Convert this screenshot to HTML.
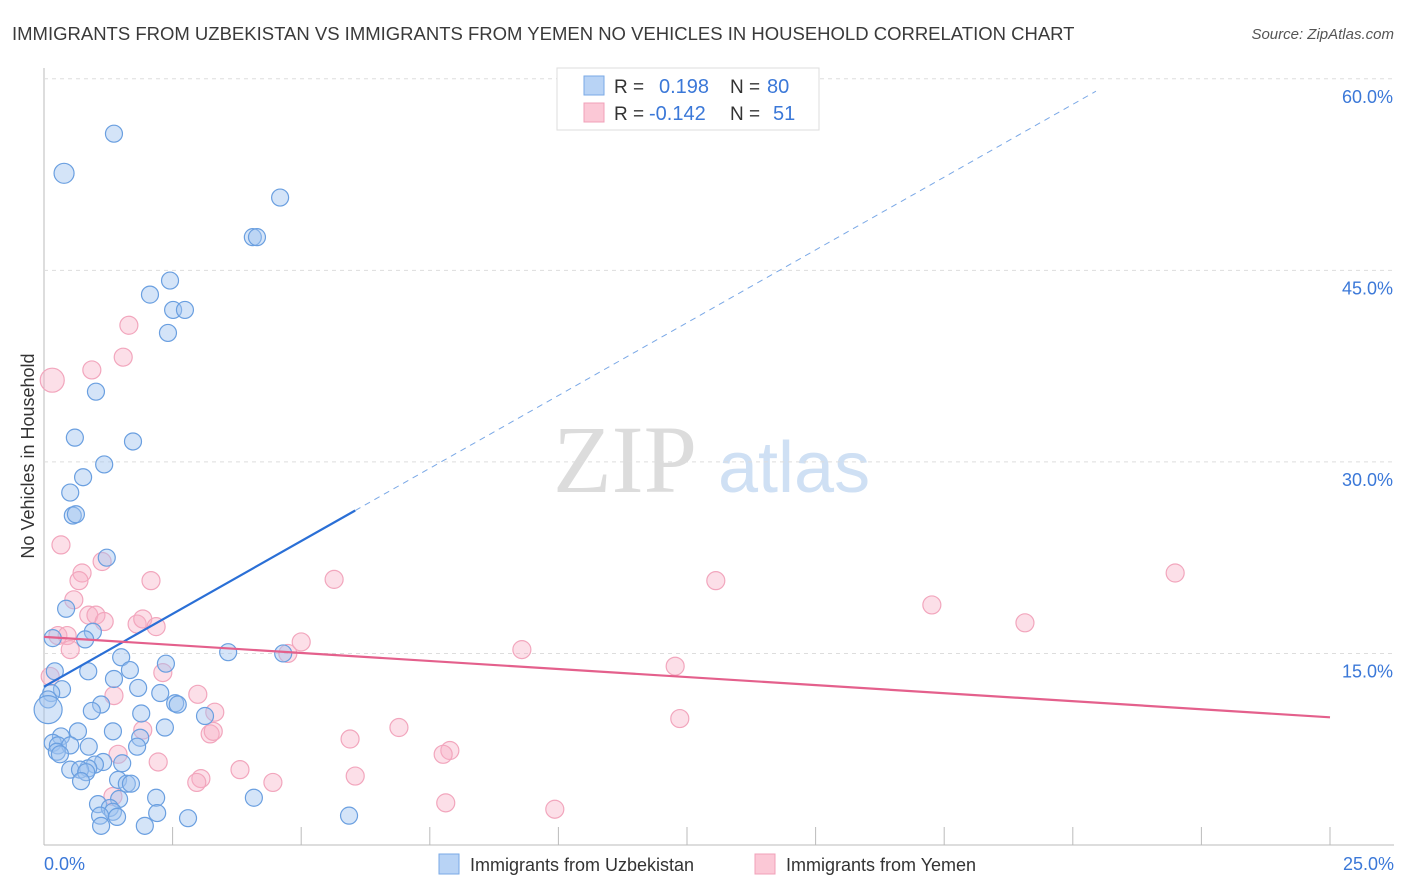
<!DOCTYPE html>
<html><head><meta charset="utf-8"><style>
body{margin:0;background:#fff;font-family:"Liberation Sans",sans-serif;}
svg{display:block}
</style></head><body>
<svg id="c" width="1406" height="892" xmlns="http://www.w3.org/2000/svg">
<text x="12" y="40" font-size="18.5" fill="#3a3a3a">IMMIGRANTS FROM UZBEKISTAN VS IMMIGRANTS FROM YEMEN NO VEHICLES IN HOUSEHOLD CORRELATION CHART</text>
<text x="1394" y="39" font-size="15" font-style="italic" fill="#555" text-anchor="end">Source: ZipAtlas.com</text>
<text transform="translate(34,456) rotate(-90)" font-size="18" fill="#333" text-anchor="middle">No Vehicles in Household</text>
<g>
<text x="553" y="492" font-size="96" font-family="Liberation Serif,serif" fill="#dcdcdc">ZIP</text>
<text x="718" y="492" font-size="72" fill="#cfe0f4">atlas</text></g>
<g id="grid"></g><g id="pts"></g><g id="trend"></g>
<g>
<rect x="557" y="68" width="262" height="62" fill="#fff" stroke="#ddd"/>
<rect x="584" y="76" width="20" height="19" fill="#b8d3f5" stroke="#7aaae6"/>
<rect x="584" y="103" width="20" height="19" fill="#fbc8d6" stroke="#f0a0b8"/>
<text x="614" y="93" font-size="19" fill="#333">R =</text>
<text x="659" y="93" font-size="20" fill="#3b78d8">0.198</text>
<text x="730" y="93" font-size="19" fill="#333">N =</text>
<text x="767" y="93" font-size="20" fill="#3b78d8">80</text>
<text x="614" y="120" font-size="19" fill="#333">R =</text>
<text x="649" y="120" font-size="20" fill="#3b78d8">-0.142</text>
<text x="730" y="120" font-size="19" fill="#333">N =</text>
<text x="773" y="120" font-size="20" fill="#3b78d8">51</text>
</g>
<g>
<rect x="439" y="854" width="20" height="20" fill="#b8d3f5" stroke="#7aaae6"/>
<text x="470" y="871" font-size="18" fill="#333">Immigrants from Uzbekistan</text>
<rect x="755" y="854" width="20" height="20" fill="#fbc8d6" stroke="#f0a0b8"/>
<text x="786" y="871" font-size="18" fill="#333">Immigrants from Yemen</text>
</g>
</svg>
<script>
const yTicks=[15,30,45,60];
const yTickLabels=["15.0%","30.0%","45.0%","60.0%"];
const xTickVals=[0,2.5,5,7.5,10,12.5,15,17.5,20,22.5,25];
const blueX=[1.36,0.39,4.59,4.06,4.14,2.45,2.06,2.51,2.74,2.41,1.01,0.60,1.73,1.17,0.76,0.51,0.56,0.62,1.22,0.43,0.95,0.17,0.80,3.58,4.65,1.50,2.37,0.21,0.86,1.67,1.36,1.83,0.35,0.14,2.26,0.08,2.55,2.60,1.11,0.08,0.93,1.89,3.13,2.35,1.34,0.66,0.33,1.87,0.17,0.27,0.51,0.87,1.81,0.25,0.31,1.15,1.52,0.99,0.86,0.51,0.70,0.82,1.44,1.61,1.69,0.72,1.46,2.18,4.08,1.05,1.28,1.34,2.20,1.09,1.42,2.80,5.93,1.11,1.96];
const blueY=[55.7,52.6,50.7,47.6,47.6,44.2,43.1,41.9,41.9,40.1,35.5,31.9,31.6,29.8,28.8,27.6,25.8,25.9,22.5,18.5,16.7,16.2,16.1,15.1,15.0,14.7,14.2,13.6,13.6,13.7,13.0,12.3,12.2,11.9,11.9,11.4,11.1,11.0,11.0,10.6,10.5,10.3,10.1,9.2,8.9,8.9,8.5,8.4,8.0,7.8,7.8,7.7,7.7,7.3,7.1,6.5,6.4,6.3,6.0,5.9,5.9,5.7,5.1,4.8,4.8,5.0,3.6,3.7,3.7,3.2,2.9,2.6,2.5,2.3,2.2,2.1,2.3,1.5,1.5];
const pinkX=[0.16,1.65,1.54,0.93,0.33,0.74,0.68,2.08,5.64,13.06,21.99,1.13,0.58,17.26,0.87,1.01,19.07,1.17,1.81,1.92,2.18,0.27,0.45,0.51,5.00,4.74,9.29,12.27,2.31,0.12,1.36,2.99,3.32,12.36,6.90,3.23,3.29,1.92,5.95,7.89,7.76,1.44,2.22,3.81,3.05,2.97,6.05,4.45,1.34,7.81,9.93];
const pinkY=[36.4,40.7,38.2,37.2,23.5,21.3,20.7,20.7,20.8,20.7,21.3,22.2,19.2,18.8,18.0,18.0,17.4,17.5,17.3,17.7,17.1,16.4,16.4,15.3,15.9,15.0,15.3,14.0,13.5,13.2,11.7,11.8,10.4,9.9,9.2,8.7,8.9,9.0,8.3,7.4,7.1,7.1,6.5,5.9,5.2,4.9,5.4,4.9,3.8,3.3,2.8];
const blueTrend=[12.4,2.28]; // intercept, slope
const blueSolidEnd=6.05, blueDashEnd=20.45;
const pinkTrend=[16.3,-0.252];
const X0=44,X1=1330,Y0=845,PPY=12.77;
const sx=v=>X0+(X1-X0)*v/25, sy=v=>Y0-v*PPY;
const NS="http://www.w3.org/2000/svg";
function mk(t,a,p){const e=document.createElementNS(NS,t);for(const k in a)e.setAttribute(k,a[k]);p.appendChild(e);return e;}
const grid=document.getElementById('grid');
const ax=mk('line',{x1:X0,y1:68,x2:X0,y2:Y0,stroke:'#bbb'},grid);

const bx=mk('line',{x1:X0,y1:Y0,x2:1394,y2:Y0,stroke:'#bbb'},grid);

yTicks.forEach((v,i)=>{
 const g=mk('line',{x1:X0,y1:sy(v),x2:1394,y2:sy(v),stroke:'#ddd','stroke-dasharray':'4,4'},grid);
 
 const t=mk('text',{x:1393,y:sy(v)+24,'font-size':18,fill:'#3b78d8','text-anchor':'end'},grid);
 t.textContent=yTickLabels[i];
 
});
xTickVals.forEach(v=>{
 const l=mk('line',{x1:sx(v),y1:Y0,x2:sx(v),y2:Y0-18,stroke:'#bbb'},grid);
 
});
const xl0=mk('text',{x:44,y:870,'font-size':18,fill:'#3b78d8'},grid);xl0.textContent='0.0%';

const xl1=mk('text',{x:1394,y:870,'font-size':18,fill:'#3b78d8','text-anchor':'end'},grid);xl1.textContent='25.0%';

const pts=document.getElementById('pts');
pinkX.forEach((x,i)=>{
 const c=mk('circle',{cx:sx(x),cy:sy(pinkY[i]),r:i==0?12:9,fill:'rgba(248,176,198,0.4)',stroke:'#f2a6bd','stroke-width':1.2},pts);
 
});
blueX.forEach((x,i)=>{
 const c=mk('circle',{cx:sx(x),cy:sy(blueY[i]),r:(i==1||i==39)?10:8.5,fill:'rgba(160,196,240,0.45)',stroke:'#6a9fe0','stroke-width':1.2},pts);
 if(i==39)c.setAttribute('r',14);
 
});
const tr=document.getElementById('trend');
const f=(t,x)=>t[0]+t[1]*x;
const b1=mk('line',{x1:sx(0),y1:sy(f(blueTrend,0)),x2:sx(blueSolidEnd),y2:sy(f(blueTrend,blueSolidEnd)),stroke:'#2a6fd6','stroke-width':2.2},tr);

const b2=mk('line',{x1:sx(blueSolidEnd),y1:sy(f(blueTrend,blueSolidEnd)),x2:sx(blueDashEnd),y2:sy(f(blueTrend,blueDashEnd)),stroke:'#7aa8e6','stroke-width':1,'stroke-dasharray':'6,5'},tr);

const p1=mk('line',{x1:sx(0),y1:sy(f(pinkTrend,0)),x2:sx(25),y2:sy(f(pinkTrend,25)),stroke:'#e4608c','stroke-width':2.2},tr);

</script>
</body></html>
